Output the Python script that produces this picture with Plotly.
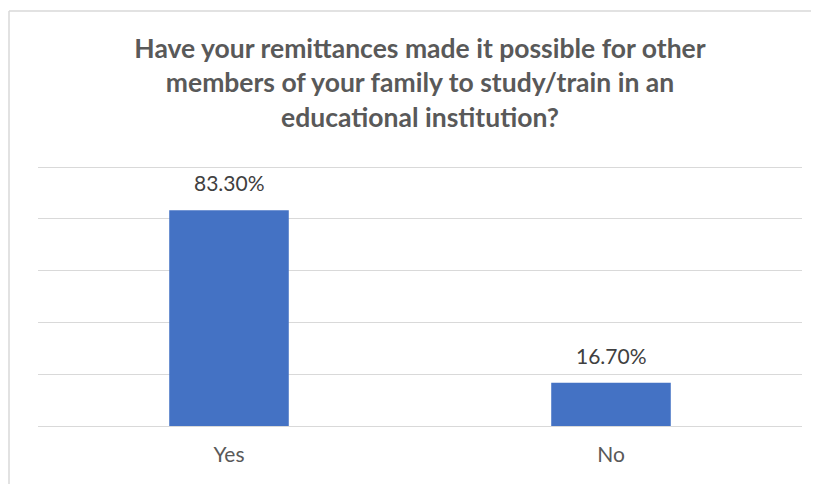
import plotly.graph_objects as go

categories = ["Yes", "No"]
values = [83.3, 16.7]
value_labels = ["83.30%", "16.70%"]
title_text = ("Have your remittances made it possible for other<br>"
              "members of your family to study/train in an<br>"
              "educational institution?")

# page body has an 8px margin; compensate so the figure lands at window pixels
OFF = 8
W, H = 819 - OFF, 484 - OFF
L, R, T, B = 38 - OFF, 17, 166 - OFF, 58
pw, ph = W - L - R, H - T - B

def px_x(px):
    return (px - OFF - L) / pw

def px_y(py):
    return (H - B - (py - OFF)) / ph

FONT = "Lato, Open Sans, sans-serif"

fig = go.Figure()
fig.add_trace(go.Bar(
    x=categories, y=values,
    marker=dict(color="#4472C4", line=dict(width=0)),
    hoverinfo="skip",
))

for c, v, t in zip(categories, values, value_labels):
    fig.add_annotation(x=c, y=v, text=t, showarrow=False,
                       yanchor="bottom", yshift=13,
                       font=dict(family=FONT, size=21, color="#404040"))

fig.update_layout(
    width=W, height=H,
    margin=dict(l=L, r=R, t=T, b=B),
    paper_bgcolor="white", plot_bgcolor="white",
    bargap=0.687,
    showlegend=False,
    title=dict(text=title_text, x=0.5, xanchor="center", xref="paper",
               y=1 - 50 / H, yanchor="top",
               font=dict(family=FONT, size=26.5, color="#595959", weight="bold")),
    font=dict(family=FONT),
    shapes=[
        dict(type="line", xref="paper", yref="paper",
             x0=px_x(9), x1=px_x(819), y0=px_y(11), y1=px_y(11),
             line=dict(color="#d9d9d9", width=1.5)),
        dict(type="line", xref="paper", yref="paper",
             x0=px_x(9), x1=px_x(9), y0=px_y(11), y1=px_y(484),
             line=dict(color="#d9d9d9", width=1.5)),
    ],
)
fig.update_yaxes(range=[0, 100.4], tickvals=[20, 40, 60, 80, 100], showticklabels=False,
                 showgrid=True, gridcolor="#d9d9d9", gridwidth=1.3,
                 zeroline=True, zerolinecolor="#d9d9d9", zerolinewidth=1.3,
                 fixedrange=True)
fig.update_xaxes(showgrid=False, showline=False, ticks="",
                 ticklabelstandoff=14,
                 tickfont=dict(family=FONT, size=21, color="#595959"),
                 fixedrange=True)

fig.write_html("out.html", config={"displayModeBar": False})
